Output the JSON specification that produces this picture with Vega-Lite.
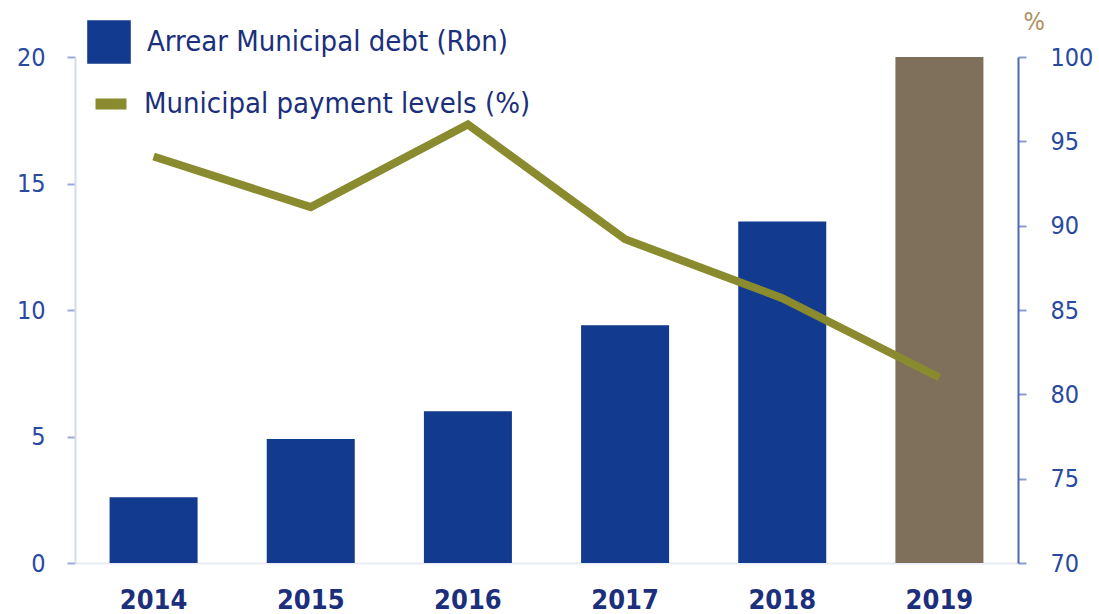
{
  "$schema": "https://vega.github.io/schema/vega-lite/v6.json",
  "width": 943,
  "height": 506,
  "autosize": {"type": "none"},
  "padding": {"left": 75, "right": 81, "top": 57, "bottom": 51},
  "background": "white",
  "config": {
    "view": {"stroke": null},
    "font": "'Liberation Sans Narrow', 'DejaVu Sans Condensed', sans-serif"
  },
  "data": {
    "values": [
      {"year": "2014", "debt": 2.6, "pay": 94.1, "series": "Arrear Municipal debt (Rbn)"},
      {"year": "2015", "debt": 4.9, "pay": 91.1, "series": "Arrear Municipal debt (Rbn)"},
      {"year": "2016", "debt": 6.0, "pay": 96.0, "series": "Arrear Municipal debt (Rbn)"},
      {"year": "2017", "debt": 9.4, "pay": 89.2, "series": "Arrear Municipal debt (Rbn)"},
      {"year": "2018", "debt": 13.5, "pay": 85.7, "series": "Arrear Municipal debt (Rbn)"},
      {"year": "2019", "debt": 20.0, "pay": 81.0, "series": "2019"}
    ]
  },
  "encoding": {
    "x": {
      "field": "year",
      "type": "ordinal",
      "scale": {"paddingInner": 0.44, "paddingOuter": 0.22},
      "axis": {
        "title": null,
        "labelAngle": 0,
        "ticks": false,
        "domainColor": "#e8ecf5",
        "domainWidth": 2,
        "labelPadding": 24,
        "labelFontSize": 27,
        "labelFontWeight": "bold",
        "labelColor": "#1b2f7c"
      }
    }
  },
  "layer": [
    {
      "mark": {"type": "bar"},
      "encoding": {
        "y": {
          "field": "debt",
          "type": "quantitative",
          "scale": {"domain": [0, 20], "nice": false},
          "axis": {
            "title": null,
            "orient": "left",
            "values": [0, 5, 10, 15, 20],
            "grid": false,
            "domainColor": "#d3dbec",
            "domainWidth": 2,
            "tickColor": "#9aaad4",
            "tickSize": 8,
            "tickWidth": 2,
            "labelPadding": 22,
            "labelFontSize": 25,
            "labelColor": "#2a4aa0"
          }
        },
        "color": {
          "field": "series",
          "type": "nominal",
          "scale": {"domain": ["Arrear Municipal debt (Rbn)", "2019"], "range": ["#123a8f", "#7f705c"]},
          "legend": {
            "title": null,
            "values": ["Arrear Municipal debt (Rbn)"],
            "orient": "none",
            "legendX": 12,
            "legendY": -37,
            "padding": 0,
            "symbolType": "square",
            "symbolSize": 1900,
            "symbolStrokeWidth": 0,
            "labelFontSize": 29,
            "labelColor": "#1b2f7c",
            "labelOffset": 16,
            "labelLimit": 600
          }
        }
      }
    },
    {
      "mark": {"type": "line", "strokeWidth": 8, "color": "#8a8a2e"},
      "encoding": {
        "y": {
          "field": "pay",
          "type": "quantitative",
          "scale": {"domain": [70, 100], "nice": false, "zero": false},
          "axis": {
            "title": "%",
            "titleAngle": 0,
            "titleX": 5,
            "titleY": -36,
            "titleAlign": "left",
            "titleBaseline": "middle",
            "titleFontSize": 25,
            "titleFontWeight": "normal",
            "titleColor": "#b08f60",
            "orient": "right",
            "values": [70, 75, 80, 85, 90, 95, 100],
            "grid": false,
            "domainColor": "#4d68ad",
            "domainWidth": 2,
            "tickColor": "#8a9cd0",
            "tickSize": 8,
            "tickWidth": 2,
            "labelPadding": 24,
            "labelFontSize": 25,
            "labelColor": "#2a4aa0"
          }
        },
        "stroke": {
          "datum": "Municipal payment levels (%)",
          "type": "nominal",
          "scale": {"range": ["#8a8a2e"]},
          "legend": {
            "title": null,
            "orient": "none",
            "legendX": 15,
            "legendY": 26,
            "padding": 0,
            "symbolType": "stroke",
            "symbolSize": 961,
            "symbolStrokeWidth": 11,
            "labelFontSize": 29,
            "labelColor": "#1b2f7c",
            "labelOffset": 12,
            "labelLimit": 600
          }
        }
      }
    }
  ],
  "resolve": {"scale": {"y": "independent"}}
}
